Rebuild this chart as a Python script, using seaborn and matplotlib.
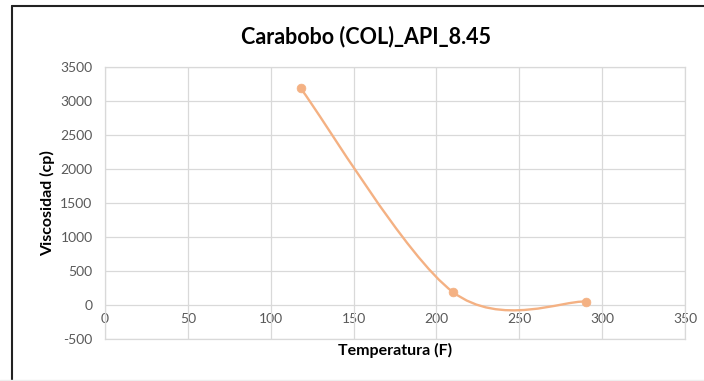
import numpy as np
import pandas as pd
import matplotlib
matplotlib.use("Agg")
import matplotlib.pyplot as plt
from matplotlib.path import Path
from matplotlib.patches import PathPatch
from matplotlib.lines import Line2D
import seaborn as sns

# ---- data ----
temperatura = [118, 210, 290]
viscosidad = [3190, 190, 50]
x_ticks = [0, 50, 100, 150, 200, 250, 300, 350]
y_ticks = [-500, 0, 500, 1000, 1500, 2000, 2500, 3000, 3500]
title = "Carabobo (COL)_API_8.45"
xlabel = "Temperatura (F)"
ylabel = "Viscosidad (cp)"

color = "#F4B183"
text_gray = "#595959"
grid_gray = "#D9D9D9"

sns.set_theme(style="white")
plt.rcParams["font.family"] = ["Lato", "DejaVu Sans"]

fig = plt.figure(figsize=(7.04, 3.81), dpi=100)
ax = fig.add_axes([105/704, 1-339/381, (685-105)/704, (339-67)/381])

df = pd.DataFrame({"T": temperatura, "V": viscosidad})

# Excel-style smoothed line (cubic Bezier, Catmull-Rom control points)
pts = np.column_stack([temperatura, viscosidad]).astype(float)
verts = [tuple(pts[0])]
codes = [Path.MOVETO]
n = len(pts)
for i in range(n - 1):
    p0 = pts[i - 1] if i > 0 else pts[i]
    p1 = pts[i]
    p2 = pts[i + 1]
    p3 = pts[i + 2] if i + 2 < n else pts[i + 1]
    c1 = p1 + (p2 - p0) / 6.0
    c2 = p2 - (p3 - p1) / 6.0
    verts += [tuple(c1), tuple(c2), tuple(p2)]
    codes += [Path.CURVE4] * 3
ax.add_patch(PathPatch(Path(verts, codes), facecolor="none", edgecolor=color,
                       lw=1.7, zorder=3, capstyle="round"))

sns.scatterplot(data=df, x="T", y="V", ax=ax, color=color, s=40,
                edgecolor=color, linewidth=0.5, zorder=4, legend=False)

ax.set_xlim(0, 350)
ax.set_ylim(-500, 3500)
ax.set_xticks(x_ticks)
ax.set_yticks(y_ticks)
ax.grid(True, color=grid_gray, lw=0.9)
ax.set_axisbelow(True)
for s in ax.spines.values():
    s.set_color(grid_gray)
    s.set_linewidth(0.9)

ax.tick_params(axis="y", length=0, pad=9, labelsize=10, labelcolor=text_gray)
ax.set_yticklabels([str(v) for v in y_ticks])
ax.tick_params(axis="x", length=0, labelbottom=False)

sec = ax.secondary_xaxis(500/4000)
sec.set_xticks(x_ticks)
sec.set_xticklabels([str(v) for v in x_ticks])
sec.tick_params(axis="x", length=0, pad=6, labelsize=10, labelcolor=text_gray)
sec.spines["bottom"].set_visible(False)

ax.set_xlabel(xlabel, fontsize=11.5, fontweight="bold", color="black", labelpad=3)
ax.set_ylabel(ylabel, fontsize=11.5, fontweight="bold", color="black", labelpad=4)

fig.text(366/704, 1-37/381, title, ha="center", va="center",
         fontsize=15.5, fontweight="bold", color="black")

# screenshot frame (top & left dark edges)
fig.add_artist(Line2D([12/704, 12/704], [0, 1-6/381], transform=fig.transFigure,
                      color="#222222", lw=1.5))
fig.add_artist(Line2D([12/704, 1], [1-6/381, 1-6/381], transform=fig.transFigure,
                      color="#222222", lw=1.5))
fig.add_artist(Line2D([0, 1], [1/381, 1/381], transform=fig.transFigure,
                      color="#EEEEEE", lw=1))

fig.savefig("out.png", dpi=100)
